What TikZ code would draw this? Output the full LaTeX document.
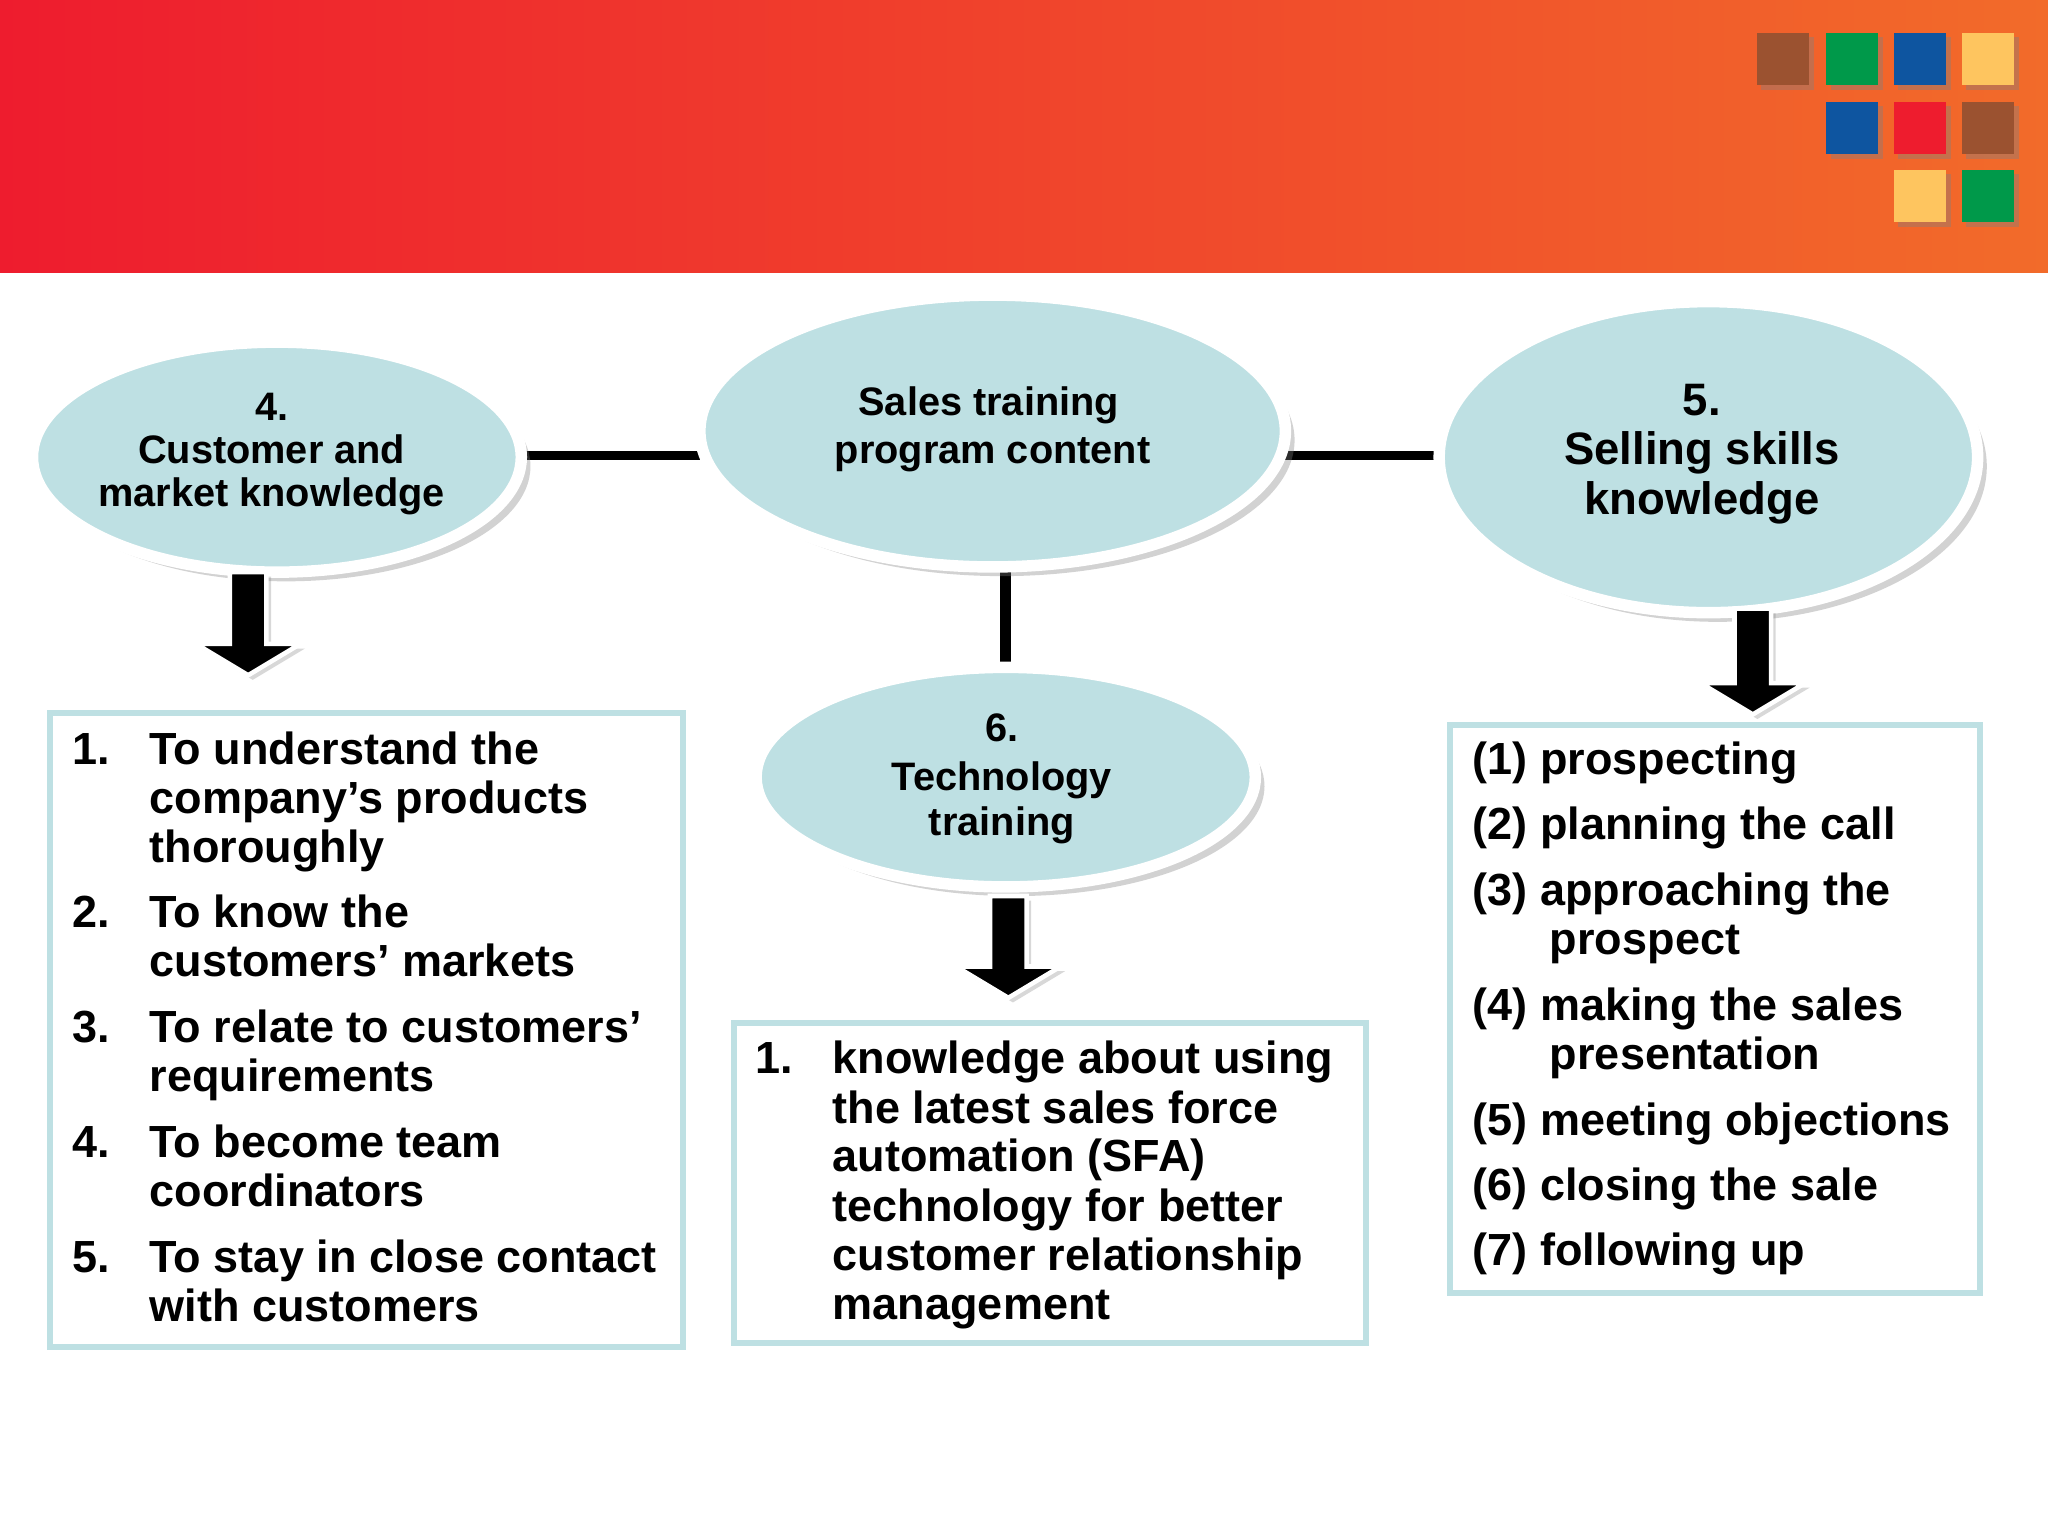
\documentclass[tikz,border=0pt]{standalone}
\usepackage{fontspec}
\setmainfont{Liberation Sans}
\usetikzlibrary{shapes.geometric,shadows}
\definecolor{ell}{HTML}{BEE0E3}
\definecolor{hred}{HTML}{EE1C2E}
\definecolor{horg}{HTML}{F26B2A}
\definecolor{sbrown}{HTML}{9B5230}
\definecolor{sgreen}{HTML}{00994A}
\definecolor{sblue}{HTML}{0E55A0}
\definecolor{syel}{HTML}{FEC55F}
\definecolor{sred}{HTML}{EE1C2E}
\begin{document}
\begin{tikzpicture}[x=0.01cm,y=-0.01cm,
 txt/.style={font=\fontsize{9.8}{11}\selectfont\bfseries,anchor=base west,inner sep=0},
 ctxt/.style={font=\fontsize{8.65}{10}\selectfont\bfseries,anchor=base,inner sep=0},
 btxt/.style={font=\fontsize{9.9}{12}\selectfont\bfseries,anchor=base,inner sep=0},
 el/.style={ellipse,fill=ell,draw=white,line width=2.5pt,drop shadow={shadow xshift=2pt,shadow yshift=-2pt,opacity=0.35}},
 box/.style={draw=ell,line width=1.3pt},
 conn/.style={line width=2pt},
 sq/.style={minimum size=0.4cm,inner sep=0,drop shadow={shadow xshift=1pt,shadow yshift=-1pt,opacity=0.4}},
 barrow/.style={fill=black,draw=white,line width=1pt,drop shadow={shadow xshift=1pt,shadow yshift=-1pt,opacity=0.3}}]
\useasboundingbox (0,0) rectangle (1568,1176);
\fill[white] (0,0) rectangle (1568,1176);
\shade[left color=hred,right color=horg] (0,0) rectangle (1568,209);
\node[sq,fill=sbrown] (s1) at (1365,45) {};
\node[sq,fill=sgreen] (s2) at (1418,45) {};
\node[sq,fill=sblue] (s3) at (1470,45) {};
\node[sq,fill=syel] (s4) at (1522,45) {};
\node[sq,fill=sblue] (s5) at (1418,98) {};
\node[sq,fill=sred] (s6) at (1470,98) {};
\node[sq,fill=sbrown] (s7) at (1522,98) {};
\node[sq,fill=syel] (s8) at (1470,150) {};
\node[sq,fill=sgreen] (s9) at (1522,150) {};
% connectors
\coordinate (l1) at (395,349); \coordinate (l2) at (540,349);
\coordinate (r1) at (980,349); \coordinate (r2) at (1105,349);
\coordinate (d1) at (770,430); \coordinate (d2) at (770,512);
\draw[conn] (l1) -- (l2); \draw[conn] (r1) -- (r2); \draw[conn,line width=2.3pt] (d1) -- (d2);
% ellipses
\node[el,minimum width=3.74cm,minimum height=1.76cm] (e4) at (212,350) {};
\node[el,minimum width=4.48cm,minimum height=2.08cm] (ec) at (760,330) {};
\node[el,minimum width=4.12cm,minimum height=2.38cm] (e5) at (1308,350) {};
\node[el,minimum width=3.82cm,minimum height=1.68cm] (e6) at (770,595) {};
\node[ctxt] (t4a) at (208,322) {4.};
\node[ctxt] (t4b) at (208,355) {Customer and};
\node[ctxt] (t4c) at (208,388) {market knowledge};
\node[ctxt] (tca) at (757,318) {Sales training};
\node[ctxt] (tcb) at (760,355) {program content};
\node[btxt] (t5a) at (1303,318) {5.};
\node[btxt] (t5b) at (1303,356) {Selling skills};
\node[btxt] (t5c) at (1303,394) {knowledge};
\node[ctxt] (t6a) at (767,568) {6.};
\node[ctxt] (t6b) at (767,605) {Technology};
\node[ctxt] (t6c) at (767,640) {training};
% block arrows
\foreach \n/\x/\t/\b in {a1/190/438/517, a2/772/686/764, a3/1342/466/547}{
 \draw[barrow] (\x-14,\t) -- (\x+14,\t) -- (\x+14,\b-24) -- (\x+40,\b-24) -- (\x,\b) -- (\x-40,\b-24) -- (\x-14,\b-24) -- cycle;
}
% boxes
\draw[box] (38,546) rectangle (523,1031);
\draw[box] (562,783) rectangle (1046,1028);
\draw[box] (1110,555) rectangle (1516,990);
% box1
\foreach \nm/\yy in {1./585,2./710,3./798,4./886,5./974}{\node[txt] at (55,\yy) {\nm};}
\node[txt] (b1) at (114,585) {To understand the};
\node[txt] at (114,623) {company’s products};
\node[txt] at (114,660) {thoroughly};
\node[txt] at (114,710) {To know the};
\node[txt] at (114,748) {customers’ markets};
\node[txt] at (114,798) {To relate to customers’};
\node[txt] at (114,836) {requirements};
\node[txt] at (114,886) {To become team};
\node[txt] at (114,924) {coordinators};
\node[txt] at (114,974) {To stay in close contact};
\node[txt] at (114,1012) {with customers};
% box2
\node[txt] at (578,822) {1.};
\node[txt] at (637,822) {knowledge about using};
\node[txt] at (637,860) {the latest sales force};
\node[txt] at (637,897) {automation (SFA)};
\node[txt] at (637,935) {technology for better};
\node[txt] at (637,973) {customer relationship};
\node[txt] at (637,1010) {management};
% box3
\node[txt] at (1127,593) {(1) prospecting};
\node[txt] at (1127,643) {(2) planning the call};
\node[txt] at (1127,693) {(3) approaching the};
\node[txt] at (1186,731) {prospect};
\node[txt] at (1127,781) {(4) making the sales};
\node[txt] at (1186,819) {presentation};
\node[txt] at (1127,869) {(5) meeting objections};
\node[txt] at (1127,919) {(6) closing the sale};
\node[txt] at (1127,969) {(7) following up};
\end{tikzpicture}
\end{document}
